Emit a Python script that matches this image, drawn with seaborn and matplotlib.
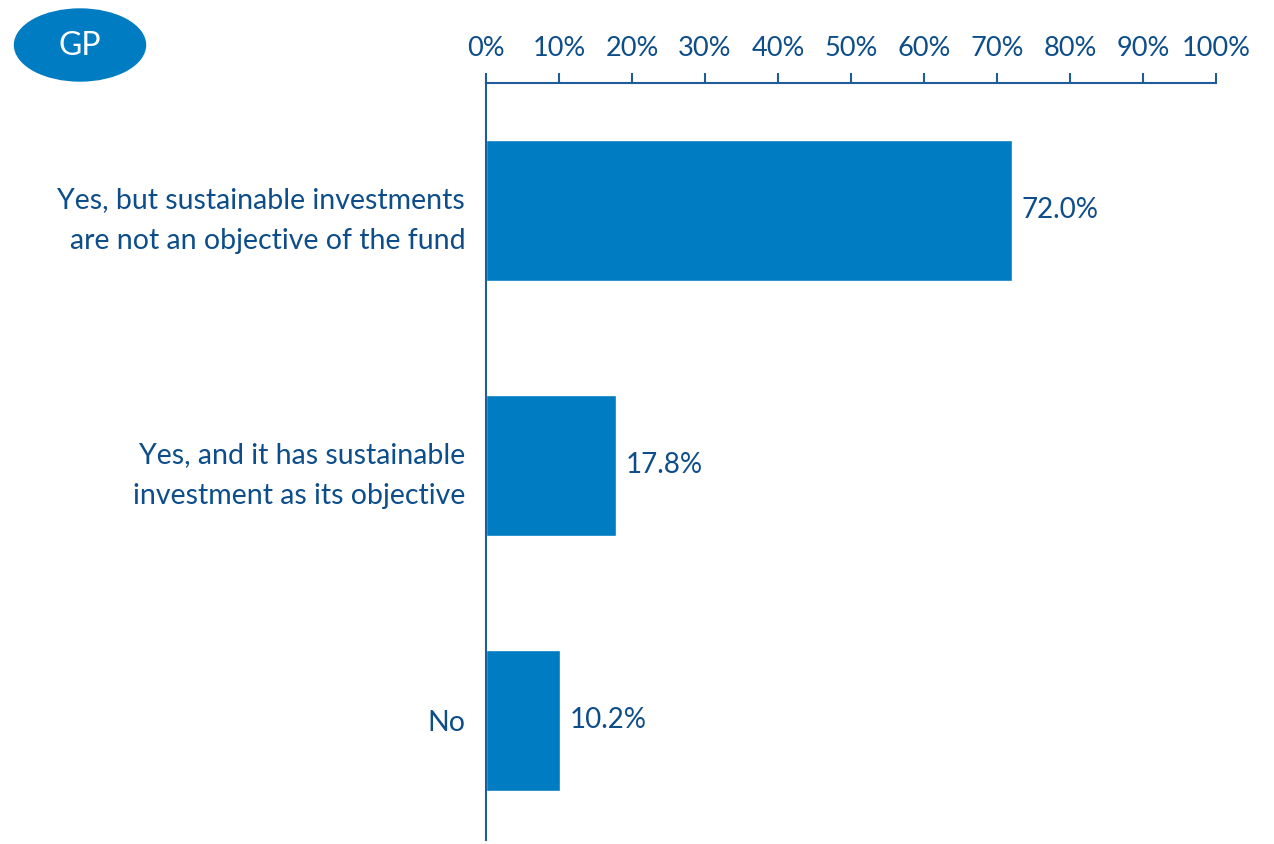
import matplotlib
matplotlib.use("Agg")
import matplotlib.pyplot as plt
from matplotlib.patches import Ellipse
import seaborn as sns
import pandas as pd

categories = ["Yes, but sustainable investments\nare not an objective of the fund",
              "Yes, and it has sustainable\ninvestment as its objective",
              "No"]
values = [72.0, 17.8, 10.2]
tick_values = [0, 10, 20, 30, 40, 50, 60, 70, 80, 90, 100]
tick_labels = [f"{v}%" for v in tick_values]
badge_text = "GP"

bar_color = "#007CC2"
text_color = "#0D4D8A"
axis_color = "#1F5C99"

sns.set_theme(style="white")
plt.rcParams["font.family"] = ["Lato", "DejaVu Sans"]

df = pd.DataFrame({"cat": categories, "val": values})

fig = plt.figure(figsize=(12.74, 8.44), dpi=100)
ax = fig.add_axes([486/1274, 1 - 840/844, (1216-486)/1274, (840-83)/844])

sns.barplot(data=df, y="cat", x="val", orient="h", color=bar_color,
            saturation=1, width=0.554, ax=ax)

ax.set_xlim(0, 100)
ax.set_ylim(2.47, -0.5)
ax.set_xlabel("")
ax.set_ylabel("")

ax.xaxis.tick_top()
ax.set_xticks(tick_values)
ax.set_xticklabels(tick_labels, fontsize=19.5, color=text_color)
ax.tick_params(axis="x", direction="out", length=7, width=1.5, color=axis_color, pad=9)
ax.tick_params(axis="y", length=0, pad=15, labelsize=20.5, labelcolor=text_color)
for lab in ax.get_yticklabels():
    lab.set_multialignment("right")
    lab.set_linespacing(1.72)

for s in ["right", "bottom"]:
    ax.spines[s].set_visible(False)
for s in ["top", "left"]:
    ax.spines[s].set_color(axis_color)
    ax.spines[s].set_linewidth(1.5)

for c in ax.containers:
    ax.bar_label(c, labels=[f"{v:.1f}%" for v in values], padding=7,
                 fontsize=20, color=text_color)

# badge
bax = fig.add_axes([0, 0, 1, 1], facecolor="none")
bax.set_xlim(0, 1274)
bax.set_ylim(844, 0)
bax.axis("off")
bax.add_patch(Ellipse((80, 45), 131, 72, color=bar_color))
bax.text(80, 46, badge_text, color="white", fontsize=23, ha="center", va="center")

fig.savefig("out.png", dpi=100)
